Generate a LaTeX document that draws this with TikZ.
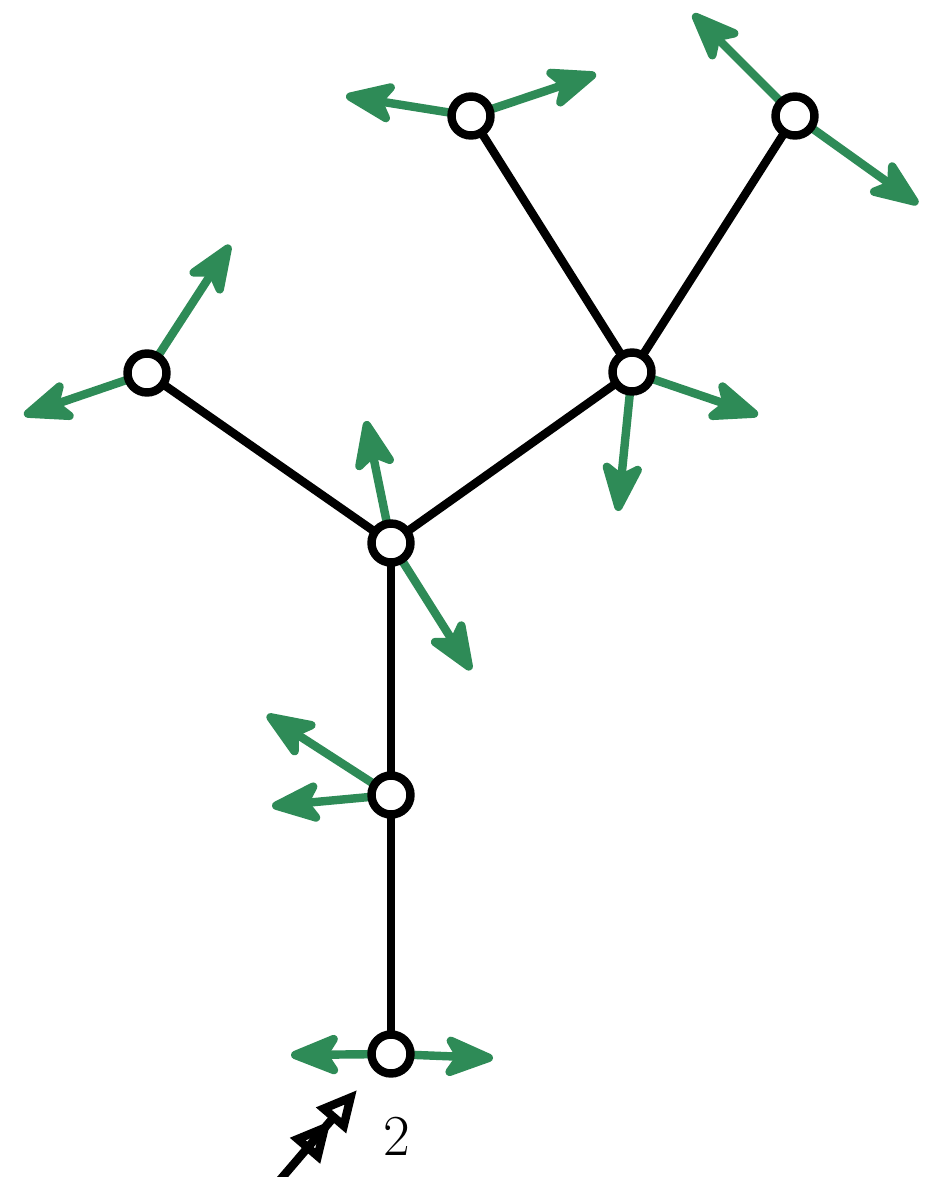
\documentclass[tikz,border=0pt]{standalone}
\usetikzlibrary{arrows.meta,backgrounds}
\definecolor{sg}{RGB}{46,139,87}
\begin{document}
\begin{tikzpicture}[x=0.02cm,y=-0.02cm,
 vtx/.style={circle,draw=black,fill=white,line width=4.8pt,minimum size=0.78cm,inner sep=0pt},
 edge/.style={line width=4.8pt,black},
 vec/.style={line width=4.8pt,sg,-{Stealth[length=1.2cm,width=0.95cm,inset=0.3cm,round]}},
 force/.style={line width=4.8pt,black,-{Triangle[open,length=0.8cm,width=0.75cm]Triangle[open,length=0.8cm,width=0.75cm]}},
]
\useasboundingbox (0,0) rectangle (928,1177);
% vertices
\node[vtx] (A) at (391,1054) {};
\node[vtx] (B) at (391,795) {};
\node[vtx] (C) at (391,543) {};
\node[vtx] (D) at (147,373) {};
\node[vtx] (E) at (632,372) {};
\node[vtx] (F) at (471,116) {};
\node[vtx] (G) at (795,116) {};
% vector tips
\coordinate (a1) at (291,1055);
\coordinate (a2) at (493,1058);
\coordinate (b1) at (267,715);
\coordinate (b2) at (272,806);
\coordinate (c1) at (366,421);
\coordinate (c2) at (471,670);
\coordinate (d1) at (24,415);
\coordinate (d2) at (230,245);
\coordinate (e1) at (758,415);
\coordinate (e2) at (618,511);
\coordinate (f1) at (346,96);
\coordinate (f2) at (596,74);
\coordinate (g1) at (693,14);
\coordinate (g2) at (918,204);
\begin{scope}[on background layer]
\draw[edge] (A.center) -- (B.center);
\draw[edge] (B.center) -- (C.center);
\draw[edge] (C.center) -- (D.center);
\draw[edge] (C.center) -- (E.center);
\draw[edge] (E.center) -- (F.center);
\draw[edge] (E.center) -- (G.center);
\draw[vec] (A.center) -- (a1);
\draw[vec] (A.center) -- (a2);
\draw[vec] (B.center) -- (b1);
\draw[vec] (B.center) -- (b2);
\draw[vec] (C.center) -- (c1);
\draw[vec] (C.center) -- (c2);
\draw[vec] (D.center) -- (d1);
\draw[vec] (D.center) -- (d2);
\draw[vec] (E.center) -- (e1);
\draw[vec] (E.center) -- (e2);
\draw[vec] (F.center) -- (f1);
\draw[vec] (F.center) -- (f2);
\draw[vec] (G.center) -- (g1);
\draw[vec] (G.center) -- (g2);
\end{scope}
% load
\coordinate (s) at (280,1180);
\coordinate (t) at (357,1090);
\draw[force] (s) -- (t);
\node (lab) at (397,1136) {\fontsize{33}{40}\selectfont 2};
\end{tikzpicture}
\end{document}
